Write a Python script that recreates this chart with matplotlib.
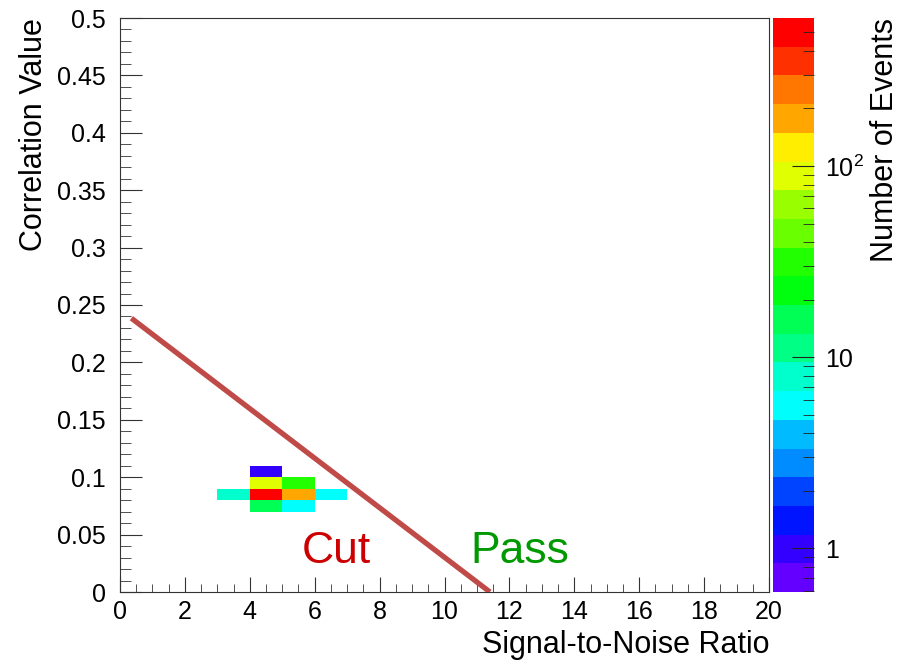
import colorsys
import numpy as np
import matplotlib
matplotlib.use('Agg')
import matplotlib.pyplot as plt
from matplotlib.colors import LogNorm, ListedColormap
from matplotlib.ticker import MultipleLocator, FixedLocator, FixedFormatter, FuncFormatter, LogLocator

plt.rcParams['font.family'] = ['Liberation Sans', 'DejaVu Sans']
plt.rcParams['mathtext.fontset'] = 'custom'
plt.rcParams['mathtext.rm'] = 'Liberation Sans'
plt.rcParams['mathtext.it'] = 'Liberation Sans'

# bin lower edges (SNR, correlation) and the event counts in them
snr_bin = [4, 4, 5, 3, 4, 5, 6, 4, 5]
corr_bin = [0.10, 0.09, 0.09, 0.08, 0.08, 0.08, 0.08, 0.07, 0.07]
counts = [1, 85, 30, 8, 540, 180, 5, 15, 5]

# cut line end points
cut_x = [0.35, 11.4]
cut_y = [0.2385, 0.0]

z_min, z_max = 0.59, 595

# ROOT "pretty" palette, 20 contours
n_cont = 20
colors = []
for i in range(n_cont):
    c = int((i + 0.99) * 50 / n_cont)
    hue = 280 - (c + 1) * 280 / 50
    colors.append(colorsys.hls_to_rgb(hue / 360.0, 0.5, 1.0))
cmap = ListedColormap(colors)

fig = plt.figure(figsize=(9, 6.6), dpi=100)
ax = fig.add_axes([120 / 900, 68 / 660, 649 / 900, 574 / 660])
cax = fig.add_axes([773 / 900, 68 / 660, 41 / 900, 574 / 660])

xc = np.array(snr_bin) + 0.5
yc = np.array(corr_bin) + 0.005
h = ax.hist2d(xc, yc, bins=[np.arange(0, 21, 1), np.linspace(0, 0.5, 51)],
              weights=counts, cmin=0.5, cmap=cmap,
              norm=LogNorm(vmin=z_min, vmax=z_max))

ax.plot(cut_x, cut_y, color='#c04a47', lw=3.8, solid_capstyle='butt', zorder=5)

ax.text(5.6, 0.025, 'Cut', color='#cc0000', fontsize=32)
ax.text(10.8, 0.025, 'Pass', color='#009900', fontsize=32)

ax.set_xlim(0, 20)
ax.set_ylim(0, 0.5)
ax.xaxis.set_major_locator(MultipleLocator(2))
ax.xaxis.set_minor_locator(MultipleLocator(0.5))
ax.yaxis.set_major_locator(MultipleLocator(0.05))
ax.yaxis.set_minor_locator(MultipleLocator(0.01))
ax.yaxis.set_major_formatter(FuncFormatter(lambda v, p: '%g' % round(v, 3)))
ax.tick_params(axis='both', which='both', direction='in', labelsize=18, color='#333333')
ax.tick_params(axis='x', which='major', length=11, pad=6)
ax.tick_params(axis='x', which='minor', length=5.5)
ax.tick_params(axis='y', which='major', length=16, pad=10)
ax.tick_params(axis='y', which='minor', length=8)
for s in ax.spines.values():
    s.set_linewidth(0.8)
    s.set_color('#333333')

ax.set_xlabel('Signal-to-Noise Ratio', fontsize=22, loc='right', labelpad=4)
ax.set_ylabel('Correlation Value', fontsize=22, loc='top', labelpad=6)

cb = fig.colorbar(h[3], cax=cax)
cb.outline.set_visible(False)
cax.yaxis.set_major_locator(FixedLocator([1, 10, 100]))
cax.yaxis.set_major_formatter(FixedFormatter(['1', '10', '$10^{2}$']))
cax.yaxis.set_minor_locator(LogLocator(base=10, subs=np.arange(2, 10)))
cax.yaxis.set_minor_formatter(FuncFormatter(lambda v, p: ''))
cax.tick_params(which='both', direction='in', right=True, left=False,
                labelsize=18, color='#222222')
cax.tick_params(which='major', length=16, pad=8)
cax.tick_params(which='minor', length=8)
cax.set_ylabel('Number of Events', fontsize=22, loc='top', labelpad=4)

fig.savefig('out.png', dpi=100)
